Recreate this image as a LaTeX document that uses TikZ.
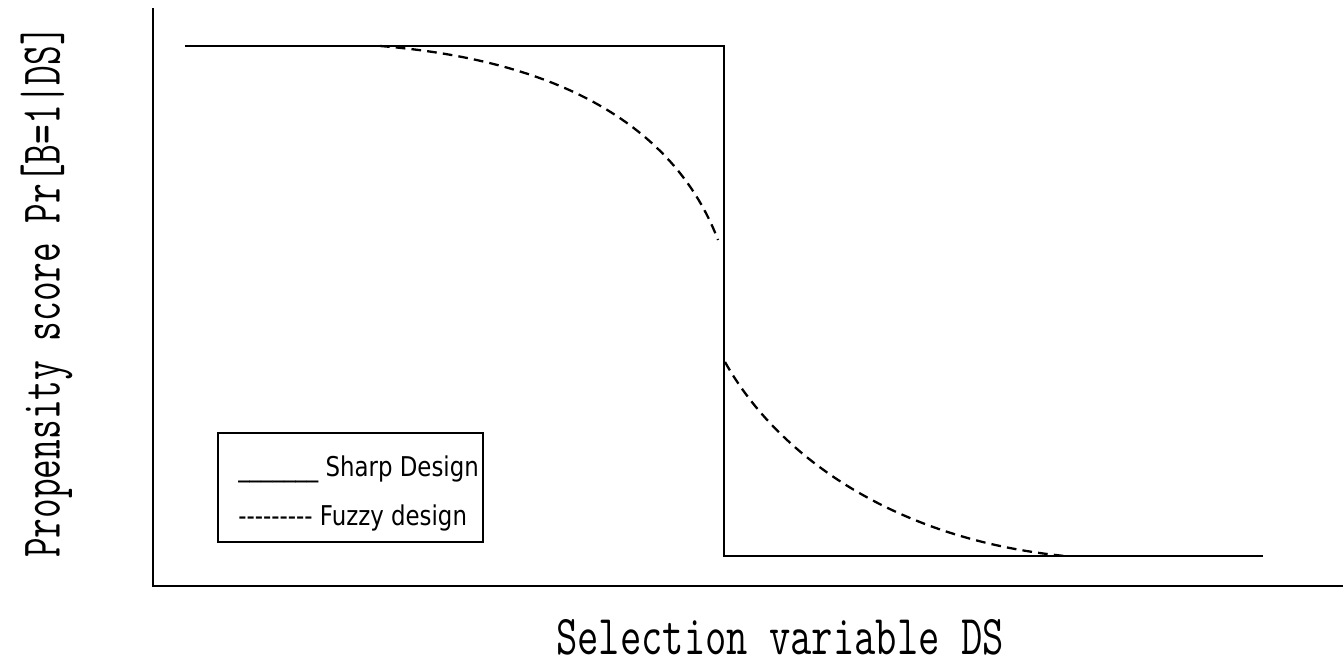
\documentclass[tikz,border=0pt]{standalone}
\usepackage{fontspec}
\usepackage{tikz}
\usetikzlibrary{positioning}
\newfontfamily\legfont{DejaVu Sans}
\newcommand{\hy}{\mbox{-}}

\begin{document}
\begin{tikzpicture}[x=0.02cm, y=-0.02cm,
    axis/.style={draw, line width=1.7pt},
    sharp/.style={draw, line width=1.4pt},
    fuzzy/.style={draw, line width=1.3pt, dash pattern=on 5.5pt off 3.5pt},
    axlabel/.style={font=\ttfamily\fontsize{32}{32}\selectfont, inner sep=0pt, text depth=0pt},
    legbox/.style={draw, line width=1.1pt, minimum width=5.3cm, minimum height=2.18cm, inner sep=0pt},
    legtext/.style={font=\legfont\fontsize{15.5}{15.5}\selectfont, anchor=base west, inner sep=0pt, xscale=0.84}]

    \useasboundingbox (0,0) rectangle (1343,666);

    % Axes
    \coordinate (origin) at (153,586);
    \coordinate (ytop) at (153,8);
    \coordinate (xend) at (1343,586);
    \draw [axis] (ytop) -- (origin) -- (xend);

    % Axis labels
    \node [axlabel, anchor=base, xscale=0.736] (xlabel) at (780,654) {Selection variable DS};
    \node [axlabel, rotate=90, xscale=0.68] (ylabel) at (40,292) {Propensity score Pr[B=1|DS]};

    % Sharp design
    \coordinate (s1) at (185,46);
    \coordinate (s2) at (724,46);
    \coordinate (s3) at (724,556);
    \coordinate (s4) at (1263,556);
    \draw [sharp] (s1) -- (s2) -- (s3) -- (s4);

    % Fuzzy design
    \coordinate (f1) at (380,46);
    \coordinate (f2) at (718,240);
    \coordinate (f3) at (725,362);
    \coordinate (f4) at (1065,556);
    \draw [fuzzy] (f1) .. controls (580,62) and (680,140) .. (f2);
    \draw [fuzzy] (f3) .. controls (780,460) and (900,540) .. (f4);

    % Legend
    \node [legbox] (legend) at (350.5,487.5) {};
    \node [legtext] (sharptext) at (238,476) {\_\_\_\_\_\_\_ Sharp Design};
    \node [legtext] (fuzzytext) at (238,525) {\hy\hy\hy\hy\hy\hy\hy\hy\hy\ Fuzzy design};

\end{tikzpicture}
\end{document}
